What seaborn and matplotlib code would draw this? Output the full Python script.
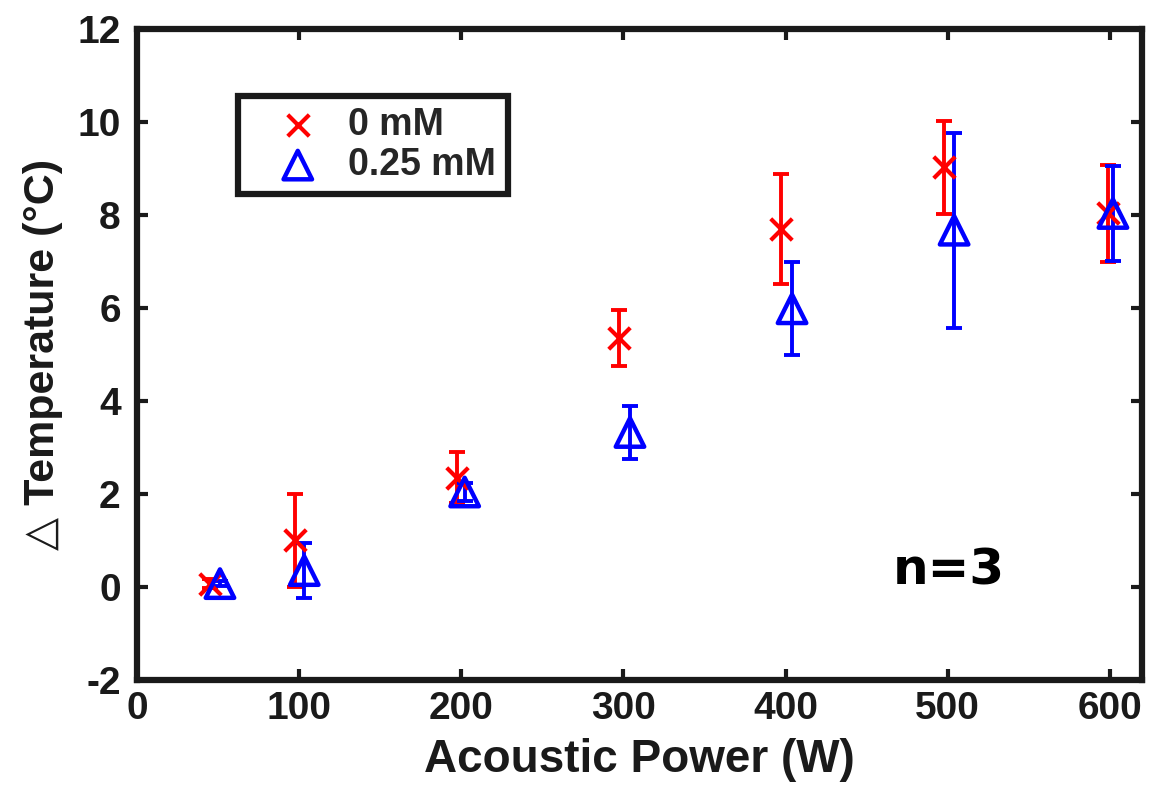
import matplotlib
matplotlib.use('Agg')
import matplotlib.pyplot as plt
import seaborn as sns

# Data
power_0mM = [45, 97, 197, 297, 397, 498, 599]
temp_0mM = [0.07, 1.0, 2.35, 5.36, 7.7, 9.02, 8.03]
err_0mM = [0.1, 1.0, 0.54, 0.6, 1.18, 1.0, 1.05]

power_025mM = [51, 103, 202, 304, 404, 504, 602]
temp_025mM = [0.07, 0.35, 2.04, 3.32, 5.98, 7.67, 8.03]
err_025mM = [0.05, 0.6, 0.2, 0.58, 1.0, 2.1, 1.03]

x_ticks = [0, 100, 200, 300, 400, 500, 600]
y_ticks = [-2, 0, 2, 4, 6, 8, 10, 12]

sns.set_style('ticks')
plt.rcParams['font.family'] = ['Liberation Sans', 'DejaVu Sans']
plt.rcParams['font.weight'] = 'bold'

fig = plt.figure(figsize=(11.49, 7.91), dpi=100)
ax = fig.add_axes([0.1195, 0.1405, 0.8745, 0.823])

# error bars
ax.errorbar(power_0mM, temp_0mM, yerr=err_0mM, fmt='none', ecolor='#ff0000',
            elinewidth=2.8, capsize=6, capthick=2.8, zorder=2)
ax.errorbar(power_025mM, temp_025mM, yerr=err_025mM, fmt='none', ecolor='#0000ff',
            elinewidth=2.8, capsize=6, capthick=2.8, zorder=2)

# markers
sns.scatterplot(x=power_0mM, y=temp_0mM, ax=ax, marker='x', color='#ff0000',
                s=240, linewidth=3, label='0 mM', zorder=3)
sns.scatterplot(x=power_025mM, y=temp_025mM, ax=ax, marker='^', facecolor='none',
                edgecolor='#0000ff', s=420, linewidth=3.2, label='0.25 mM', zorder=4)

ax.set_xlim(0, 620)
ax.set_ylim(-2, 12)
ax.set_xticks(x_ticks)
ax.set_yticks(y_ticks)
ax.set_xticklabels([str(v) for v in x_ticks], fontsize=28, fontweight='bold')
ax.set_yticklabels([str(v) for v in y_ticks], fontsize=28, fontweight='bold')
ax.tick_params(direction='in', length=8, width=3, color='#1a1a1a',
               top=True, right=True, labelcolor='#1a1a1a')
ax.tick_params(axis='x', pad=8)
ax.tick_params(axis='y', pad=12)

for sp in ax.spines.values():
    sp.set_linewidth(4.5)
    sp.set_color('#1a1a1a')

ax.set_xlabel('Acoustic Power (W)', fontsize=33, fontweight='bold',
              color='#1a1a1a', labelpad=8)
ax.set_ylabel('\u25b3 Temperature (\u00b0C)', fontsize=31, fontweight='bold',
              color='#1a1a1a', labelpad=10)

ax.text(501, 0.05, 'n=3', fontsize=36, fontweight='bold', family='DejaVu Sans',
        ha='center', va='baseline', color='black')

leg = ax.legend(loc='upper left', bbox_to_anchor=(0.1, 0.897), borderaxespad=0,
                fancybox=False, framealpha=1, edgecolor='#1a1a1a',
                prop={'size': 27, 'weight': 'bold'}, handletextpad=0.05,
                borderpad=0.3, labelspacing=0.1, handlelength=2.6)
leg.get_frame().set_linewidth(4.5)

fig.savefig('out.png', dpi=100)
